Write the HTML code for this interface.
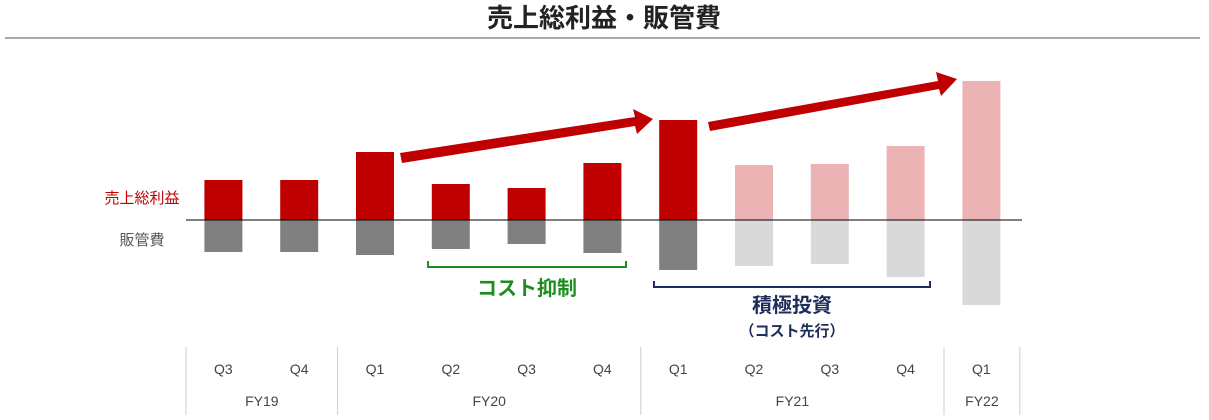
<!DOCTYPE html>
<html><head><meta charset="utf-8">
<style>
body{margin:0;background:#fff;font-family:"Liberation Sans","Noto Sans CJK JP",sans-serif;}
svg text{font-family:"Liberation Sans","Noto Sans CJK JP",sans-serif;}
</style></head>
<body>
<svg width="1209" height="415" viewBox="0 0 1209 415" xmlns="http://www.w3.org/2000/svg">
<text x="604" y="27" text-anchor="middle" font-size="26" font-weight="bold" fill="#222">売上総利益・販管費</text>
<line x1="5" y1="38" x2="1200" y2="38" stroke="#555" stroke-width="1"/>
<text x="142" y="203" text-anchor="middle" font-size="15" fill="#c00000">売上総利益</text>
<text x="142" y="245" text-anchor="middle" font-size="15" fill="#595959">販管費</text>
<g id="bars"></g>
<line x1="186" y1="220" x2="1022" y2="220" stroke="#000" stroke-width="1"/>
<polygon points="400,153 635,117 633,109 653,119 637,134 635,126 402,163" fill="#c00000"/>
<polygon points="708,122 938,81 936,72 957,79 941,96 939,89 710,131" fill="#c00000"/>
<path d="M428,261 V267 H626 V261" fill="none" stroke="#1e8c1e" stroke-width="2"/>
<text x="527" y="295" text-anchor="middle" font-size="20" font-weight="bold" fill="#1e8c1e">コスト抑制</text>
<path d="M654,281 V287 H930 V281" fill="none" stroke="#1f2d5c" stroke-width="2"/>
<text x="792" y="312" text-anchor="middle" font-size="20" font-weight="bold" fill="#1f2d5c">積極投資</text>
<text x="792" y="336" text-anchor="middle" font-size="15" font-weight="bold" fill="#1f2d5c">（コスト先行）</text>
<g id="axis"></g>
</svg>
<script>
const quarters=["Q3","Q4","Q1","Q2","Q3","Q4","Q1","Q2","Q3","Q4","Q1"];
const grossProfit=[40,40,68,36,32,57,100,55,56,74,139];
const sga=[32,32,35,29,24,33,50,46,44,57,85];
const forecast=[false,false,false,false,false,false,false,true,true,true,true];
const fyLabels=["FY19","FY20","FY21","FY22"];
const fyCounts=[2,4,4,1];
const NS="http://www.w3.org/2000/svg";
const x0=186,step=75.8,bw=38,zeroY=220;
const xc=i=>x0+step*(i+0.5)-0.5;
const yScale=v=>v*1.0;
const bars=document.getElementById('bars');
quarters.forEach((q,i)=>{
  const r=document.createElementNS(NS,'rect');
  r.setAttribute('x',xc(i)-bw/2);r.setAttribute('width',bw);
  r.setAttribute('y',zeroY-yScale(grossProfit[i]));r.setAttribute('height',yScale(grossProfit[i]));
  r.setAttribute('fill',forecast[i]?'#ebb3b3':'#c00000');
  
  
  bars.appendChild(r);
  const s=document.createElementNS(NS,'rect');
  s.setAttribute('x',xc(i)-bw/2);s.setAttribute('width',bw);
  s.setAttribute('y',zeroY);s.setAttribute('height',yScale(sga[i]));
  s.setAttribute('fill',forecast[i]?'#d9d9d9':'#808080');
  
  
  bars.appendChild(s);
});
const axis=document.getElementById('axis');
quarters.forEach((q,i)=>{
  const t=document.createElementNS(NS,'text');
  t.setAttribute('x',xc(i));t.setAttribute('y',374);t.setAttribute('text-anchor','middle');
  t.setAttribute('font-size','14');t.setAttribute('fill','#444');t.textContent=q;
  
  
  axis.appendChild(t);
});
let idx=0;
const sep=(x)=>{const l=document.createElementNS(NS,'line');l.setAttribute('x1',x);l.setAttribute('x2',x);l.setAttribute('y1',347);l.setAttribute('y2',415);l.setAttribute('stroke','#ccc');


axis.appendChild(l);};
sep(x0);
fyLabels.forEach((f,k)=>{
  const start=idx,end=idx+fyCounts[k];idx=end;
  const t=document.createElementNS(NS,'text');
  t.setAttribute('x',x0+step*(start+end)/2);t.setAttribute('y',406);t.setAttribute('text-anchor','middle');
  t.setAttribute('font-size','14');t.setAttribute('fill','#444');t.textContent=f;
  
  
  axis.appendChild(t);
  sep(x0+step*end);
});
</script>
</body></html>
